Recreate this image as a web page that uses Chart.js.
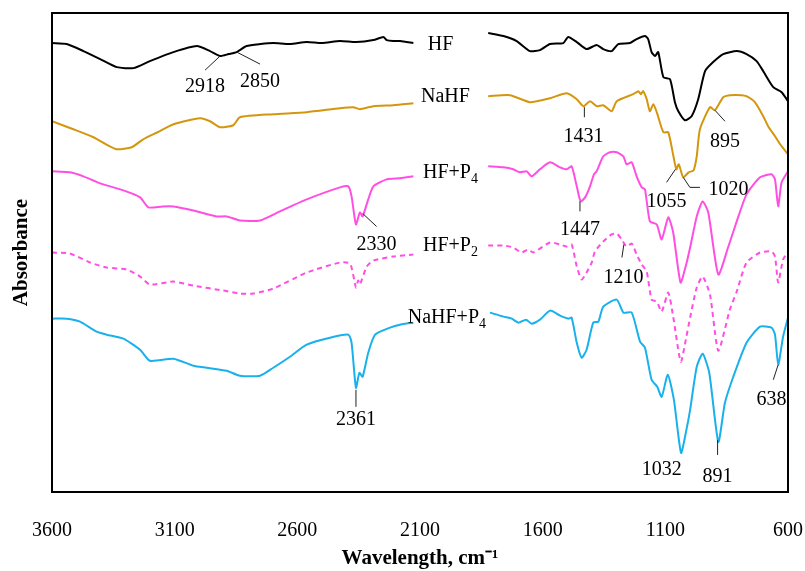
<!DOCTYPE html>
<html>
<head>
<meta charset="utf-8">
<script src="https://cdn.jsdelivr.net/npm/chart.js@4.4.1/dist/chart.umd.min.js"></script>
<style>
  html, body { margin: 0; padding: 0; background: #fff; }
</style>
</head>
<body>
<canvas id="ftirChart" width="805" height="571"></canvas>
<script>
// FTIR spectra, [wavenumber cm-1, absorbance (offset, a.u.)], null = break in the scan
const hfPoints = [
  [3600,4.49],[3540,4.48],[3472,4.41],[3404,4.33],[3336,4.25],[3268,4.24],[3201,4.31],[3105,4.40],
  [3010,4.46],[2956,4.41],[2915,4.36],[2880,4.38],[2847,4.40],[2807,4.46],[2750,4.48],[2698,4.49],
  [2630,4.48],[2562,4.50],[2500,4.49],[2426,4.51],[2360,4.50],[2290,4.52],[2249,4.55],[2236,4.52],
  [2209,4.51],[2181,4.51],[2127,4.49],[2000,null],
  [1822,4.59],[1760,4.56],[1706,4.51],[1652,4.41],[1611,4.42],[1570,4.48],[1516,4.49],[1496,4.55],
  [1461,4.50],[1421,4.43],[1380,4.47],[1353,4.43],[1319,4.41],[1292,4.48],[1244,4.49],[1217,4.53],
  [1183,4.56],[1170,4.53],[1156,4.40],[1142,4.36],[1129,4.40],[1108,4.15],[1081,4.13],[1061,3.90],
  [1047,3.81],[1020,3.72],[993,3.76],[966,3.93],[938,4.21],[905,4.30],[864,4.38],[809,4.41],
  [769,4.38],[728,4.31],[701,4.21],[660,4.05],[626,4.00],[600,3.91]
];
const nahfPoints = [
  [3600,3.71],[3513,3.63],[3431,3.55],[3380,3.48],[3336,3.43],[3275,3.45],[3228,3.53],[3170,3.60],
  [3105,3.68],[2997,3.74],[2956,3.71],[2915,3.65],[2861,3.67],[2834,3.75],[2698,3.78],[2562,3.80],
  [2426,3.84],[2372,3.85],[2345,3.83],[2290,3.86],[2209,3.87],[2127,3.89],[2000,null],
  [1822,3.96],[1733,3.97],[1652,3.90],[1570,3.94],[1502,3.99],[1461,3.93],[1434,3.86],[1407,3.91],
  [1380,3.86],[1353,3.87],[1319,3.81],[1298,3.91],[1231,3.98],[1210,4.01],[1200,3.98],[1190,4.01],
  [1176,3.93],[1163,3.81],[1149,3.88],[1135,3.80],[1108,3.60],[1088,3.60],[1067,3.36],[1055,3.23],
  [1045,3.28],[1027,3.15],[1005,3.20],[985,3.22],[972,3.36],[959,3.63],[918,3.85],[898,3.82],
  [864,3.95],[837,3.97],[769,3.96],[735,3.90],[701,3.76],[681,3.66],[653,3.56],[632,3.48],[600,3.38]
];
const hfP4Points = [
  [3600,3.21],[3527,3.20],[3472,3.16],[3404,3.09],[3309,3.02],[3241,2.95],[3207,2.85],[3150,2.86],
  [3105,2.86],[3024,2.82],[2929,2.76],[2888,2.76],[2834,2.72],[2752,2.72],[2671,2.81],[2562,2.93],
  [2426,3.05],[2392,3.06],[2379,2.96],[2361,2.68],[2345,2.80],[2334,2.76],[2311,2.93],[2290,3.06],
  [2236,3.13],[2181,3.14],[2127,3.16],[2000,null],
  [1822,3.26],[1760,3.25],[1720,3.23],[1693,3.20],[1665,3.21],[1645,3.16],[1611,3.23],[1570,3.30],
  [1529,3.25],[1502,3.23],[1482,3.26],[1461,3.06],[1445,2.91],[1427,2.95],[1407,3.06],[1391,3.18],
  [1380,3.21],[1353,3.36],[1326,3.40],[1298,3.40],[1271,3.36],[1258,3.28],[1237,3.30],[1217,3.16],
  [1196,3.05],[1183,3.03],[1163,2.71],[1135,2.68],[1115,2.53],[1088,2.75],[1068,2.60],[1038,2.10],
  [1015,2.28],[999,2.45],[972,2.76],[948,2.91],[925,2.80],[884,2.18],[843,2.46],[809,2.71],
  [769,2.98],[714,3.15],[667,3.18],[653,3.13],[640,2.86],[626,3.10],[600,3.21]
];
const hfP2Points = [
  [3600,2.40],[3527,2.39],[3445,2.30],[3377,2.25],[3296,2.23],[3241,2.16],[3201,2.08],[3105,2.11],
  [3024,2.07],[2902,2.02],[2834,1.99],[2779,1.99],[2698,2.04],[2562,2.20],[2426,2.30],[2385,2.29],
  [2361,2.05],[2352,2.12],[2345,2.08],[2317,2.26],[2290,2.32],[2209,2.36],[2127,2.38],[2000,null],
  [1822,2.47],[1760,2.47],[1720,2.45],[1686,2.40],[1659,2.43],[1638,2.40],[1570,2.50],[1529,2.48],
  [1502,2.46],[1482,2.48],[1461,2.26],[1441,2.13],[1421,2.20],[1400,2.30],[1387,2.41],[1353,2.51],
  [1319,2.58],[1298,2.59],[1278,2.53],[1258,2.46],[1237,2.49],[1217,2.38],[1196,2.28],[1176,2.21],
  [1156,1.93],[1135,1.91],[1115,1.81],[1088,2.00],[1068,1.76],[1037,1.31],[1015,1.55],[999,1.75],
  [972,2.05],[948,2.16],[918,1.98],[884,1.42],[837,1.83],[809,2.01],[769,2.30],[714,2.40],
  [667,2.41],[653,2.36],[640,2.10],[620,2.33],[600,2.41]
];
const nahfP4Points = [
  [3600,1.74],[3540,1.74],[3486,1.71],[3418,1.61],[3377,1.58],[3309,1.54],[3241,1.43],[3201,1.32],
  [3105,1.34],[3024,1.27],[2970,1.25],[2888,1.22],[2834,1.17],[2752,1.17],[2698,1.25],[2630,1.36],
  [2562,1.48],[2467,1.55],[2392,1.58],[2379,1.50],[2361,1.05],[2347,1.20],[2334,1.16],[2311,1.40],
  [2283,1.58],[2222,1.65],[2181,1.68],[2127,1.70],[2000,null],
  [1815,1.80],[1760,1.76],[1726,1.74],[1699,1.70],[1668,1.73],[1645,1.69],[1611,1.73],[1570,1.82],
  [1529,1.77],[1496,1.74],[1482,1.75],[1461,1.50],[1441,1.35],[1421,1.43],[1394,1.70],[1373,1.71],
  [1353,1.86],[1298,1.93],[1271,1.80],[1237,1.80],[1203,1.51],[1183,1.45],[1156,1.13],[1133,1.06],
  [1115,0.96],[1090,1.18],[1065,0.93],[1036,0.40],[1015,0.62],[999,0.83],[972,1.26],[948,1.39],
  [921,1.20],[884,0.51],[857,0.90],[823,1.16],[769,1.50],[714,1.66],[667,1.65],[653,1.58],
  [640,1.28],[620,1.56],[600,1.75]
];

const xTicks = [3600, 3100, 2600, 2100, 1600, 1100, 600];

// series names written next to the traces: [name, subscript, wavenumber of left edge, absorbance]
const seriesLabels = [
  ['HF', '', 2068, 4.47],
  ['NaHF', '', 2096, 3.95],
  ['HF+P', '4', 2088, 3.20],
  ['HF+P', '2', 2088, 2.47],
  ['NaHF+P', '4', 2150, 1.75]
];

// peak labels: text, label position, leader line points (all wavenumber / absorbance)
const peakLabels = [
  { text: '2918', at: [2976, 4.05], line: [[2915, 4.36], [2976, 4.22]] },
  { text: '2850', at: [2752, 4.10], line: [[2847, 4.40], [2752, 4.28]] },
  { text: '1431', at: [1434, 3.56], line: [[1430, 3.85], [1430, 3.75]] },
  { text: '895',  at: [857, 3.51],  line: [[898, 3.82], [857, 3.71]] },
  { text: '1055', at: [1095, 2.91], line: [[1059, 3.23], [1095, 3.10]] },
  { text: '1020', at: [843, 3.03],  line: [[1027, 3.15], [1000, 3.05], [959, 3.05]] },
  { text: '1447', at: [1448, 2.63], line: [[1448, 2.91], [1448, 2.81]] },
  { text: '2330', at: [2277, 2.48], line: [[2334, 2.79], [2277, 2.66]] },
  { text: '1210', at: [1271, 2.15], line: [[1269, 2.48], [1277, 2.35]] },
  { text: '2361', at: [2361, 0.73], line: [[2361, 1.03], [2361, 0.86]] },
  { text: '1032', at: [1115, 0.23], line: [] },
  { text: '891',  at: [887, 0.16],  line: [[887, 0.53], [887, 0.38]] },
  { text: '638',  at: [667, 0.93],  line: [[640, 1.28], [660, 1.13]] }
];

const serif = "'Liberation Serif', 'Times New Roman', serif";
Chart.defaults.font.family = serif;
Chart.defaults.color = '#000';

function toXY(points) {
  return points.map(p => ({ x: p[0], y: p[1] }));
}

function trace(label, points, color, dash) {
  return {
    label: label,
    data: toXY(points),
    borderColor: color,
    borderWidth: 2,
    borderDash: dash || [],
    pointRadius: 0,
    tension: 0.2,
    spanGaps: false,
    fill: false
  };
}

// frame around the plot area
const framePlugin = {
  id: 'frame',
  afterDraw(chart) {
    const a = chart.chartArea;
    const ctx = chart.ctx;
    ctx.save();
    ctx.strokeStyle = '#000';
    ctx.lineWidth = 2;
    ctx.strokeRect(a.left, a.top, a.right - a.left, a.bottom - a.top);
    ctx.restore();
  }
};

// series names and peak labels
const labelPlugin = {
  id: 'labels',
  afterDatasetsDraw(chart) {
    const ctx = chart.ctx;
    const xs = chart.scales.x, ys = chart.scales.y;
    ctx.save();
    ctx.fillStyle = '#000';
    ctx.textBaseline = 'middle';

    seriesLabels.forEach(s => {
      const x = xs.getPixelForValue(s[2]);
      const y = ys.getPixelForValue(s[3]);
      ctx.font = '20px ' + serif;
      ctx.textAlign = 'left';
      ctx.fillText(s[0], x, y);
      if (s[1]) {
        const w = ctx.measureText(s[0]).width;
        ctx.font = '14px ' + serif;
        ctx.fillText(s[1], x + w, y + 7);
      }
    });

    ctx.strokeStyle = '#222';
    ctx.lineWidth = 1;
    ctx.font = '20px ' + serif;
    ctx.textAlign = 'center';
    peakLabels.forEach(p => {
      if (p.line.length) {
        ctx.beginPath();
        p.line.forEach((pt, i) => {
          const px = xs.getPixelForValue(pt[0]);
          const py = ys.getPixelForValue(pt[1]);
          if (i === 0) ctx.moveTo(px, py); else ctx.lineTo(px, py);
        });
        ctx.stroke();
      }
      ctx.fillText(p.text, xs.getPixelForValue(p.at[0]), ys.getPixelForValue(p.at[1]));
    });
    ctx.restore();
  }
};

const ctx = document.getElementById('ftirChart').getContext('2d');
const ftirChart = new Chart(ctx, {
  type: 'line',
  data: {
    datasets: [
      trace('HF', hfPoints, '#000000'),
      trace('NaHF', nahfPoints, '#d4960f'),
      trace('HF+P4', hfP4Points, '#ff4fe3'),
      trace('HF+P2', hfP2Points, '#ff4fe3', [5, 4]),
      trace('NaHF+P4', nahfP4Points, '#19b1ec')
    ]
  },
  options: {
    responsive: false,
    animation: false,
    layout: { padding: { top: 13, right: 17, left: 0, bottom: 0 } },
    plugins: {
      legend: { display: false },
      tooltip: { enabled: false }
    },
    scales: {
      x: {
        type: 'linear',
        reverse: true,
        min: 600,
        max: 3600,
        afterBuildTicks: scale => {
          scale.ticks = xTicks.map(v => ({ value: v }));
        },
        afterFit: scale => {
          scale.height = 79;
          scale.paddingLeft = 0;
          scale.paddingRight = 0;
        },
        ticks: {
          callback: v => String(v),
          font: { size: 20 },
          color: '#000',
          padding: 27,
          maxRotation: 0
        },
        grid: { display: false, drawTicks: false },
        border: { display: false },
        title: {
          display: true,
          text: 'Wavelength, cm\u207B\u00B9',
          font: { size: 21, weight: 'bold' },
          color: '#000',
          padding: { top: 0, bottom: 0 }
        }
      },
      y: {
        type: 'linear',
        min: 0.01,
        max: 4.79,
        afterFit: scale => { scale.width = 52; },
        ticks: { display: false },
        grid: { display: false, drawTicks: false },
        border: { display: false },
        title: {
          display: true,
          text: 'Absorbance',
          font: { size: 21, weight: 'bold' },
          color: '#000',
          padding: { top: 9, bottom: 0 }
        }
      }
    }
  },
  plugins: [framePlugin, labelPlugin]
});
</script>
</body>
</html>
